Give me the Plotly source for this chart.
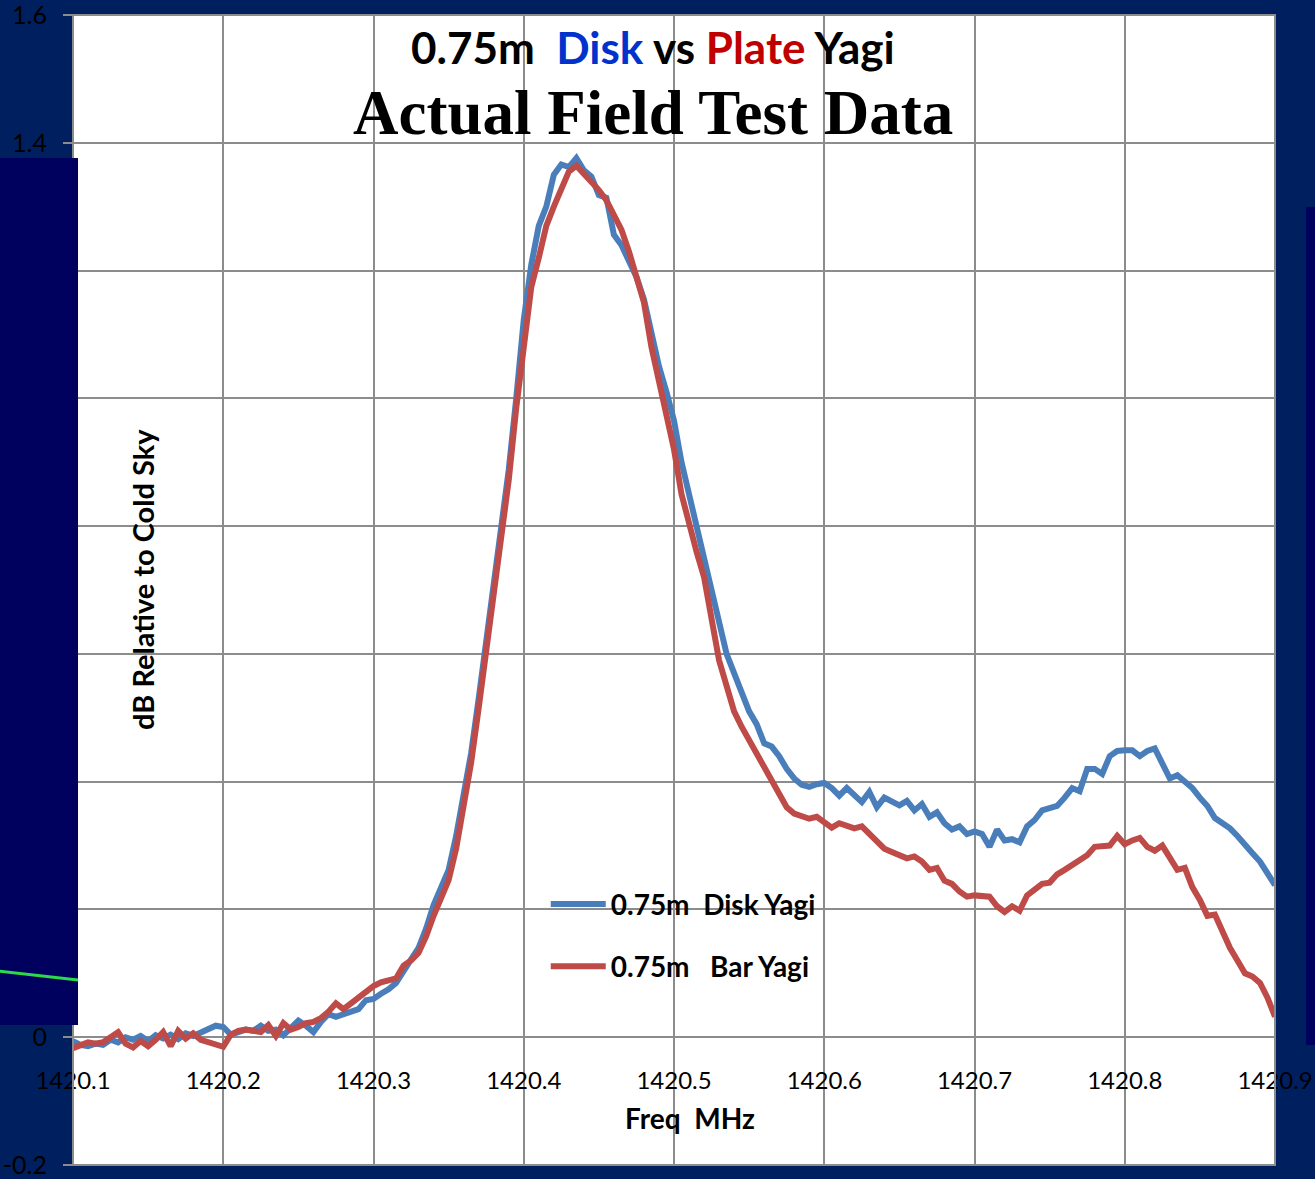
import plotly.graph_objects as go

# ---- data ----
freq = [round(1420.1 + 0.005 * i, 3) for i in range(161)]

disk_yagi = [
    -0.006, -0.012, -0.014, -0.010, -0.012, -0.004, -0.008, 0.000, -0.004, 0.002,
    -0.006, 0.003, -0.002, 0.004, -0.003, 0.006, 0.002, 0.008, 0.012, 0.018,
    0.016, 0.004, 0.008, 0.012, 0.010, 0.018, 0.010, 0.012, 0.003, 0.014,
    0.026, 0.018, 0.008, 0.024, 0.036, 0.032, 0.036, 0.038, 0.044, 0.058,
    0.060, 0.068, 0.075, 0.085, 0.105, 0.122, 0.140, 0.170, 0.207, 0.235,
    0.262, 0.315, 0.375, 0.445, 0.530, 0.620, 0.700, 0.790, 0.888, 1.000,
    1.123, 1.209, 1.270, 1.300, 1.350, 1.366, 1.362, 1.376, 1.357, 1.347,
    1.318, 1.314, 1.256, 1.240, 1.215, 1.190, 1.155, 1.100, 1.050, 1.010,
    0.965, 0.900, 0.850, 0.800, 0.750, 0.690, 0.645, 0.600, 0.570, 0.540,
    0.510, 0.490, 0.460, 0.455, 0.440, 0.420, 0.405, 0.395, 0.392, 0.396,
    0.398, 0.390, 0.378, 0.390, 0.380, 0.368, 0.384, 0.360, 0.375, 0.370,
    0.363, 0.370, 0.355, 0.365, 0.345, 0.352, 0.335, 0.325, 0.330, 0.318,
    0.322, 0.318, 0.298, 0.325, 0.308, 0.310, 0.305, 0.330, 0.340, 0.355,
    0.358, 0.362, 0.375, 0.390, 0.385, 0.420, 0.420, 0.412, 0.440, 0.448,
    0.449, 0.449, 0.440, 0.448, 0.452, 0.430, 0.405, 0.410, 0.400, 0.390,
    0.375, 0.362, 0.343, 0.335, 0.327, 0.315, 0.300, 0.288, 0.275, 0.255,
    0.238,
]

bar_yagi = [
    -0.017, -0.012, -0.008, -0.010, -0.008, 0.000, 0.008, -0.010, -0.016, -0.006,
    -0.014, -0.004, 0.008, -0.014, 0.010, -0.002, 0.006, -0.004, -0.008, -0.010,
    -0.015, 0.004, 0.010, 0.012, 0.010, 0.008, 0.019, 0.002, 0.022, 0.012,
    0.016, 0.022, 0.024, 0.030, 0.040, 0.053, 0.044, 0.053, 0.060, 0.070,
    0.080, 0.086, 0.089, 0.092, 0.112, 0.120, 0.132, 0.158, 0.190, 0.220,
    0.246, 0.295, 0.360, 0.430, 0.515, 0.605, 0.684, 0.775, 0.872, 0.985,
    1.084, 1.174, 1.220, 1.270, 1.300, 1.326, 1.355, 1.364, 1.352, 1.340,
    1.326, 1.310, 1.285, 1.264, 1.230, 1.190, 1.150, 1.080, 1.025, 0.966,
    0.920, 0.850, 0.800, 0.760, 0.720, 0.660, 0.590, 0.550, 0.510, 0.486,
    0.465, 0.444, 0.425, 0.405, 0.385, 0.360, 0.350, 0.345, 0.342, 0.345,
    0.335, 0.328, 0.335, 0.330, 0.327, 0.330, 0.318, 0.305, 0.295, 0.290,
    0.285, 0.280, 0.283, 0.275, 0.262, 0.265, 0.245, 0.240, 0.228, 0.220,
    0.222, 0.222, 0.220, 0.205, 0.196, 0.205, 0.198, 0.222, 0.230, 0.240,
    0.242, 0.255, 0.262, 0.270, 0.277, 0.285, 0.298, 0.300, 0.300, 0.315,
    0.302, 0.308, 0.312, 0.298, 0.292, 0.300, 0.280, 0.262, 0.265, 0.235,
    0.215, 0.190, 0.192, 0.165, 0.140, 0.120, 0.100, 0.095, 0.085, 0.062,
    0.032,
]

series_names = ["0.75m\u00a0\u00a0Disk Yagi", "0.75m\u00a0\u00a0\u00a0Bar Yagi"]

x_tick_vals = [1420.1, 1420.2, 1420.3, 1420.4, 1420.5, 1420.6, 1420.7, 1420.8, 1420.9]
x_tick_text = ["1420.1", "1420.2", "1420.3", "1420.4", "1420.5", "1420.6", "1420.7", "1420.8", "1420.9"]
y_tick_vals = [-0.2, 0, 0.2, 0.4, 0.6, 0.8, 1.0, 1.2, 1.4, 1.6]
y_tick_text = ["-0.2", "0", "0.2", "0.4", "0.6", "0.8", "1", "1.2", "1.4", "1.6"]

# ---- figure ----
BG = "#001F5F"
OVERLAY = "#00005E"
GRID = "#8C8C8C"
FONT = "Lato"

fig = go.Figure()
fig.add_trace(go.Scatter(x=freq, y=disk_yagi, mode="lines", name=series_names[0],
                         legendgroup="a", line=dict(color="#4A7EBB", width=6)))
fig.add_trace(go.Scatter(x=freq, y=bar_yagi, mode="lines", name=series_names[1],
                         legendgroup="b", line=dict(color="#BE4B48", width=6)))

fig.update_layout(
    width=1315, height=1179, autosize=False,
    margin=dict(l=73, r=40, t=15, b=14, pad=0, autoexpand=False),
    paper_bgcolor=BG, plot_bgcolor="white",
    font=dict(family=FONT, color="black"),
    showlegend=True,
    legend=dict(x=0.3933, y=0.2485, xanchor="left", yanchor="top",
                bgcolor="rgba(0,0,0,0)", borderwidth=0, tracegroupgap=23,
                itemwidth=55,
                font=dict(family=FONT, size=28, color="black", weight="bold")),
    xaxis=dict(range=[1420.1, 1420.9], tickvals=x_tick_vals, ticktext=x_tick_text,
               showgrid=True, gridcolor=GRID, gridwidth=2, zeroline=False,
               showline=False, ticks="", anchor="free", position=0.2 / 1.8,
               automargin=False, ticklabeloverflow="allow",
               ticklabelstandoff=27, tickfont=dict(family=FONT, size=24, color="black")),
    yaxis=dict(range=[-0.2, 1.6], tickvals=y_tick_vals, ticktext=y_tick_text,
               showgrid=True, gridcolor=GRID, gridwidth=2, zeroline=False,
               showline=False, ticks="outside", ticklen=9, tickwidth=2, tickcolor=GRID,
               automargin=False, ticklabeloverflow="allow",
               ticklabelstandoff=11, tickfont=dict(family=FONT, size=25, color="black")),
)

# plot border
fig.add_shape(type="rect", xref="x domain", yref="y domain", x0=0, x1=1, y0=0, y1=1,
              line=dict(color=GRID, width=2), layer="above")
# decorative overlays from slide background
fig.add_shape(type="rect", xref="paper", yref="paper", x0=-0.07, x1=5 / 1202,
              y0=(1165 - 1025) / 1150, y1=(1165 - 158) / 1150,
              fillcolor=OVERLAY, line=dict(width=0), layer="above")
fig.add_shape(type="rect", xref="paper", yref="paper", x0=(1306 - 73) / 1202, x1=1.05,
              y0=(1165 - 1045) / 1150, y1=(1165 - 207) / 1150,
              fillcolor=OVERLAY, line=dict(width=0), layer="above")
fig.add_shape(type="line", xref="paper", yref="paper", x0=-0.07, x1=5 / 1202,
              y0=(1165 - 970) / 1150, y1=(1165 - 980) / 1150,
              line=dict(color="#2BD94A", width=3), layer="above")

# titles
fig.add_annotation(xref="paper", yref="paper", x=(653 - 73) / 1202, y=(1165 - 47) / 1150,
                   showarrow=False, xanchor="center", yanchor="middle",
                   text="<b>0.75m\u00a0\u00a0<span style='color:#0033CC'>Disk</span> vs "
                        "<span style='color:#C00000'>Plate</span> Yagi</b>",
                   font=dict(family=FONT, size=44, color="black"))
fig.add_annotation(xref="paper", yref="paper", x=(653 - 73) / 1202, y=(1165 - 113) / 1150,
                   showarrow=False, xanchor="center", yanchor="middle",
                   text="<b>Actual Field Test Data</b>",
                   font=dict(family="Liberation Serif", size=63, color="black"))
# axis titles
fig.add_annotation(xref="paper", yref="paper", x=(142 - 73) / 1202, y=(1165 - 580) / 1150,
                   showarrow=False, xanchor="center", yanchor="middle", textangle=-90,
                   text="<b>dB Relative to Cold Sky</b>",
                   font=dict(family=FONT, size=29, color="black"))
fig.add_annotation(xref="paper", yref="paper", x=(690 - 73) / 1202, y=(1165 - 1118) / 1150,
                   showarrow=False, xanchor="center", yanchor="middle",
                   text="<b>Freq\u00a0\u00a0MHz</b>",
                   font=dict(family=FONT, size=28, color="black"))

fig.write_html("out.html")
